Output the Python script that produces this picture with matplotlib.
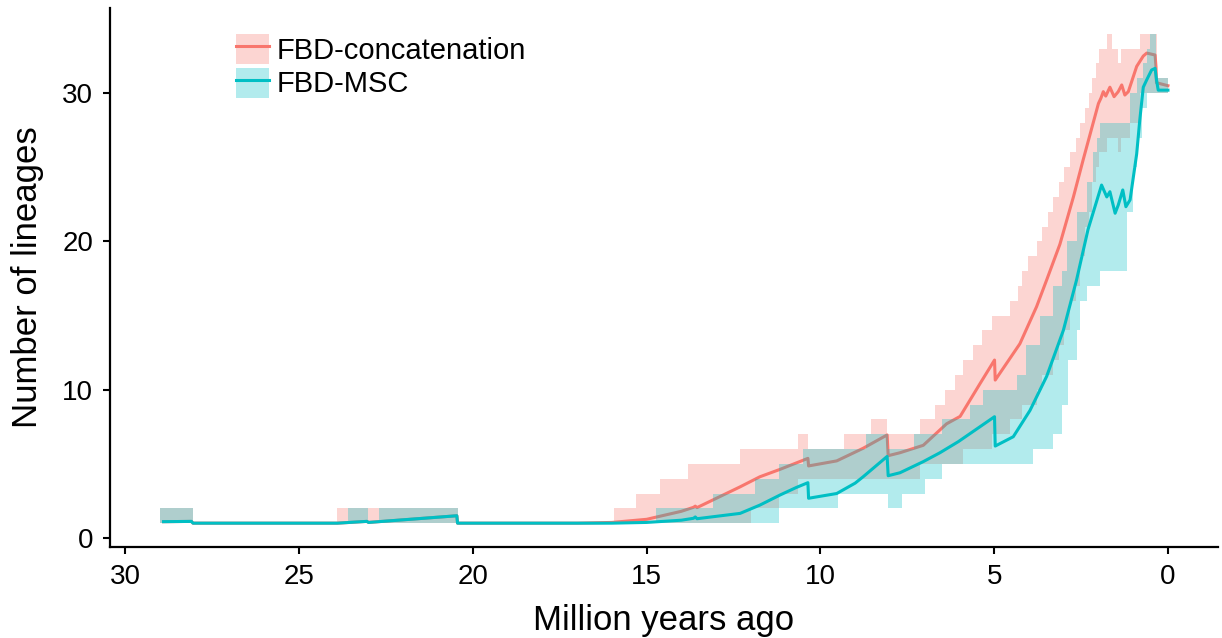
import numpy as np
import matplotlib
matplotlib.use("Agg")
import matplotlib.pyplot as plt
from matplotlib.patches import Patch
from matplotlib.lines import Line2D

plt.rcParams['font.family'] = ['Liberation Sans', 'DejaVu Sans']

# colours (ggplot defaults)
RED = '#F8766D'
CYAN = '#00BFC4'

# ---- median lineage-through-time curves (time in Myr ago, count) ----
conc_t = [28.9, 28.1, 28.05, 23.9, 23.05, 23.0, 20.46, 20.44, 17.0, 16.0, 15.0, 14.0,
          13.65, 13.6, 13.55, 12.31, 11.74, 11.16, 10.36, 10.34, 9.53, 8.77, 8.08, 8.05,
          7.71, 7.04, 6.37, 5.98, 5.41, 4.99, 4.97, 4.26, 3.78, 3.49, 3.11, 2.72, 2.44,
          2.0, 1.93, 1.86, 1.79, 1.67, 1.55, 1.43, 1.33, 1.24, 1.14, 0.90, 0.71, 0.61,
          0.37, 0.345, 0.33, 0.0]
conc_n = [1.1, 1.12, 1.0, 1.0, 1.12, 1.05, 1.5, 1.0, 1.0, 1.05, 1.26, 1.8,
          2.07, 2.15, 2.05, 3.45, 4.13, 4.63, 5.37, 4.86, 5.2, 6.05, 6.95, 5.55,
          5.75, 6.25, 7.7, 8.2, 10.4, 12.0, 10.65, 13.1, 15.6, 17.4, 19.8, 23.0, 25.5,
          29.3, 29.65, 30.1, 29.8, 30.4, 29.76, 30.1, 30.55, 29.87, 30.1, 31.8, 32.5, 32.7,
          32.57, 31.8, 30.7, 30.5]

msc_t = [28.9, 28.1, 28.05, 23.9, 23.05, 23.0, 20.46, 20.44, 16.0, 15.0, 14.0,
         13.65, 13.6, 13.55, 12.31, 11.74, 11.16, 10.7, 10.36, 10.34, 9.53, 9.0, 8.77,
         8.08, 8.05, 7.71, 7.04, 6.56, 6.03, 5.41, 4.99, 4.97, 4.45, 3.97, 3.49, 3.01,
         2.63, 2.3, 1.91, 1.76, 1.67, 1.52, 1.43, 1.30, 1.21, 1.09, 0.90, 0.81, 0.71,
         0.61, 0.47, 0.37, 0.33, 0.28, 0.0]
msc_n = [1.1, 1.12, 1.0, 1.0, 1.12, 1.05, 1.5, 1.0, 1.0, 1.05, 1.2,
         1.33, 1.42, 1.3, 1.66, 2.22, 2.9, 3.4, 3.73, 2.68, 3.0, 3.7, 4.13,
         5.5, 4.2, 4.4, 5.15, 5.75, 6.5, 7.5, 8.18, 6.2, 6.83, 8.6, 10.9, 14.0,
         17.4, 20.8, 23.8, 23.0, 23.35, 21.9, 22.45, 23.47, 22.34, 22.8, 25.9, 28.2, 30.4,
         30.9, 31.56, 31.67, 30.9, 30.2, 30.2]

# ---- 95% intervals as step segments (edges in Myr ago, one value per segment) ----
conc_edges = [29.0, 28.05, 23.9, 20.44, 15.94, 15.31, 14.61, 13.82, 12.31, 12.0, 11.2,
              10.64, 10.35, 9.31, 8.55, 8.07, 7.13, 6.70, 6.42, 6.13, 5.89, 5.60, 5.36,
              5.07, 4.78, 4.55, 4.31, 4.21, 4.02, 3.78, 3.63, 3.44, 3.30, 3.14, 2.98,
              2.82, 2.66, 2.52, 2.40, 2.28, 2.18, 2.08, 1.98, 1.75, 1.60, 1.45, 1.35,
              1.10, 0.80, 0.32, 0.0]
conc_hi = [2, 1, 2, 1, 2, 3, 4, 5, 6, 6, 6, 7, 6, 7, 8, 7, 8, 9, 10, 11, 12, 13, 14, 15,
           15, 16, 17, 18, 19, 20, 21, 22, 23, 24, 25, 26, 27, 28, 29, 30, 31, 32, 33,
           34, 33, 32, 33, 33, 34, 31]
conc_lo = [1, 1, 1, 1, 1, 1, 1, 1, 1, 2, 3, 4, 4, 4, 4, 4, 5, 5, 5, 5, 6, 6, 6, 7,
           7, 8, 8, 9, 9, 10, 11, 11, 12, 13, 14, 16, 17, 19, 21, 22, 24, 25, 26,
           27, 27, 26, 27, 28, 30, 30]

msc_edges = [29.0, 28.05, 23.6, 23.03, 22.69, 20.44, 14.73, 13.08, 11.87, 11.19, 10.49,
             9.50, 8.69, 8.05, 7.66, 7.30, 6.99, 6.51, 6.13, 5.70, 5.31, 4.93, 4.35,
             4.07, 3.88, 3.68, 3.30, 3.06, 2.91, 2.87, 2.63, 2.53, 2.34, 2.15, 2.05,
             1.96, 1.18, 1.09, 1.0, 0.9, 0.76, 0.71, 0.6, 0.52, 0.33, 0.0]
msc_hi = [2, 1, 2, 1, 2, 1, 2, 3, 4, 5, 6, 6, 7, 6, 6, 7, 7, 8, 8, 9, 10, 10, 11,
          13, 13, 15, 17, 18, 20, 20, 22, 22, 24, 26, 27, 28, 28, 30, 30, 31, 31, 32,
          33, 34, 31]
msc_lo = [1, 1, 1, 1, 1, 1, 1, 1, 1, 2, 2, 3, 3, 2, 3, 3, 4, 5, 5, 5, 5, 5, 5,
          5, 6, 6, 7, 9, 9, 12, 14, 16, 17, 17, 17, 18, 22, 22, 25, 27, 29, 29,
          30, 30, 30]

labels = ['FBD-concatenation', 'FBD-MSC']


def steps(edges, lo, hi):
    # turn segment tables into x/y arrays for fill_between
    x, ylo, yhi = [], [], []
    for i in range(len(lo)):
        x += [edges[i], edges[i + 1]]
        ylo += [lo[i], lo[i]]
        yhi += [hi[i], hi[i]]
    return np.array(x), np.array(ylo), np.array(yhi)


W, H = 1222, 638
fig = plt.figure(figsize=(W / 100, H / 100), dpi=100)
ax = fig.add_axes([110 / W, 1 - 547 / H, (1218 - 110) / W, (547 - 8) / H])

LW = 2.2
x, lo, hi = steps(conc_edges, conc_lo, conc_hi)
ax.fill_between(x, lo, hi, color=RED, alpha=0.3, lw=0, zorder=1)
ax.plot(conc_t, conc_n, color=RED, lw=LW, zorder=2)
x, lo, hi = steps(msc_edges, msc_lo, msc_hi)
ax.fill_between(x, lo, hi, color=CYAN, alpha=0.3, lw=0, zorder=3)
ax.plot(msc_t, msc_n, color=CYAN, lw=LW, zorder=4)

ax.set_xlim(30.44, -1.44)
ax.set_ylim(-0.607, 35.74)
ax.set_xticks([30, 25, 20, 15, 10, 5, 0])
ax.set_yticks([0, 10, 20, 30])
ax.set_xlabel('Million years ago', fontsize=25, labelpad=10)
ax.set_ylabel('Number of lineages', fontsize=25, labelpad=13)
ax.tick_params(labelsize=20, length=5, width=1.5, pad=7, colors='black')
for s in ['top', 'right']:
    ax.spines[s].set_visible(False)
for s in ['left', 'bottom']:
    ax.spines[s].set_linewidth(1.6)

handles = [(Patch(facecolor=RED, alpha=0.3, lw=0), Line2D([], [], color=RED, lw=LW)),
           (Patch(facecolor=CYAN, alpha=0.3, lw=0), Line2D([], [], color=CYAN, lw=LW))]
fig.legend(handles, labels, loc='upper left', bbox_to_anchor=(236 / W, 1 - 34 / H),
           bbox_transform=fig.transFigure, frameon=False, fontsize=21,
           borderpad=0, borderaxespad=0, handlelength=1.13, handleheight=1.2,
           handletextpad=0.25, labelspacing=0.1)

fig.savefig('out.png', dpi=100)
